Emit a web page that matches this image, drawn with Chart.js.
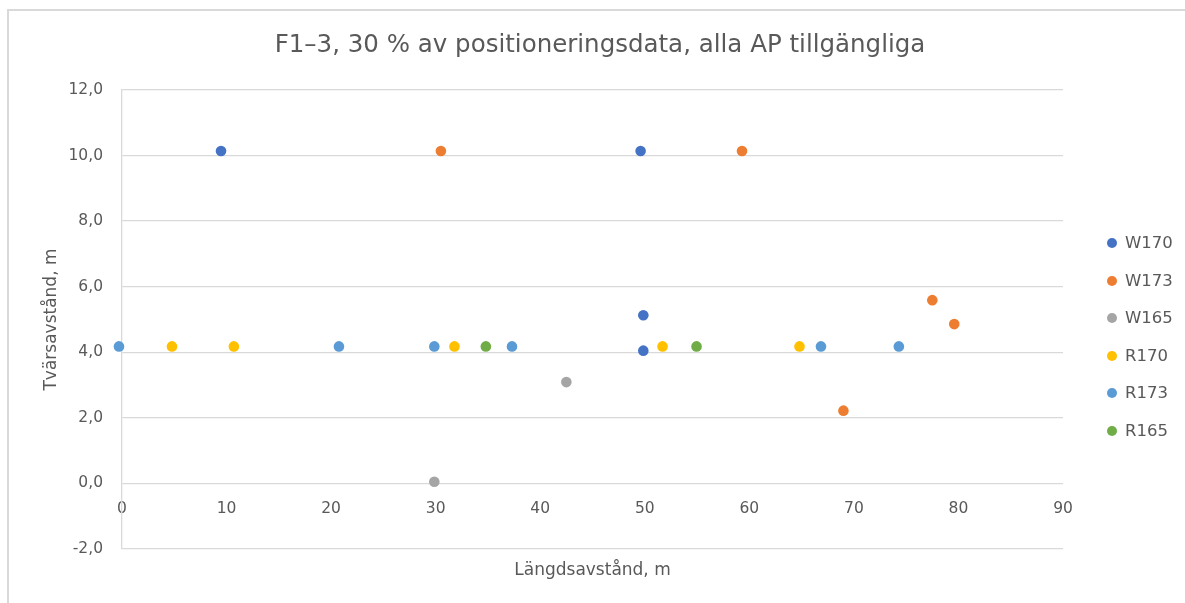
<!DOCTYPE html>
<html>
<head>
<meta charset="utf-8">
<script src="https://cdn.jsdelivr.net/npm/chart.js@4.4.1/dist/chart.umd.min.js"></script>
<style>
  html, body { margin: 0; padding: 0; background: #fff; overflow: hidden; }
  #wrap { position: relative; width: 1185px; height: 603px; overflow: hidden; }
  #frame { position: absolute; left: 7px; top: 9px; width: 1178px; height: 594px;
           border-left: 2px solid #d9d9d9; border-top: 2px solid #d9d9d9; box-sizing: border-box; }
  canvas { position: absolute; left: 0; top: 0; }
  #legend { position: absolute; left: 0; top: 0; font-family: "DejaVu Sans", sans-serif; color: #595959; }
  .li { position: absolute; display: flex; align-items: center; height: 20px; font-size: 16.5px; line-height: 20px; white-space: nowrap; }
  .dot { width: 10px; height: 10px; border-radius: 50%; margin-right: 8px; }
</style>
</head>
<body>
<div id="wrap">
  <div id="frame"></div>
  <canvas id="c" width="1185" height="603"></canvas>
  <div id="legend"></div>
</div>
<script>
// ---- data ----
const seriesNames = ["W170", "W173", "W165", "R170", "R173", "R165"];
const w170X = [9.47, 49.6, 49.86, 49.86];
const w170Y = [10.14, 10.14, 5.13, 4.05];
const w173X = [30.5, 59.3, 77.5, 79.6, 69.0];
const w173Y = [10.14, 10.14, 5.59, 4.86, 2.22];
const w165X = [29.87, 42.5];
const w165Y = [0.05, 3.09];
const r170X = [4.78, 10.7, 31.8, 51.7, 64.8];
const r170Y = [4.18, 4.18, 4.18, 4.18, 4.18];
const r173X = [-0.29, 20.75, 29.87, 37.3, 66.85, 74.3];
const r173Y = [4.18, 4.18, 4.18, 4.18, 4.18, 4.18];
const r165X = [34.8, 54.95];
const r165Y = [4.18, 4.18];
const xTicks = [0, 10, 20, 30, 40, 50, 60, 70, 80, 90];
const yTicks = [-2, 0, 2, 4, 6, 8, 10, 12];
const titleText = "F1\u20133, 30 % av positioneringsdata, alla AP tillgängliga";
const xTitle = "Längdsavstånd, m";
const yTitle = "Tvärsavstånd, m";
// ---------------------------------------

const colors = ["#4472C4", "#ED7D31", "#A5A5A5", "#FFC000", "#5B9BD5", "#70AD47"];
const xs = [w170X, w173X, w165X, r170X, r173X, r165X];
const ys = [w170Y, w173Y, w165Y, r170Y, r173Y, r165Y];
const FONT = "'DejaVu Sans', sans-serif";
const TXT = "#595959";
const GRID = "#d9d9d9";

const datasets = seriesNames.map((name, s) => ({
  label: name,
  data: xs[s].map((x, i) => ({ x: x, y: ys[s][i] })),
  backgroundColor: colors[s],
  borderColor: colors[s],
  pointRadius: 5.3,
  pointHoverRadius: 5.3,
  borderWidth: 0,
  clip: false,
  order: seriesNames.length - s
}));

Chart.defaults.font.family = FONT;
Chart.defaults.color = TXT;

const chart = new Chart(document.getElementById('c'), {
  type: 'scatter',
  data: { datasets: datasets },
  options: {
    responsive: false,
    animation: false,
    devicePixelRatio: 1,
    layout: { padding: { left: 15, right: 0, top: 0, bottom: 0 } },
    plugins: {
      legend: { display: false },
      tooltip: { enabled: false },
      title: {
        display: true,
        text: titleText,
        color: TXT,
        font: { family: FONT, size: 24.5, weight: 'normal' },
        padding: { top: 31, bottom: 29.6 }
      }
    },
    scales: {
      x: {
        type: 'linear',
        position: 'bottom',
        min: 0, max: 90,
        grid: { display: false, drawTicks: false },
        border: { display: false },
        ticks: { display: false },
        title: { display: true, text: xTitle, color: TXT, font: { family: FONT, size: 17 }, padding: { top: 0, bottom: 21.8 } },
        afterFit: (s) => { s.height = 54; }
      },
      x2: {
        type: 'linear',
        position: { y: 0 },
        min: 0, max: 90,
        afterBuildTicks: (s) => { s.ticks = xTicks.map(v => ({ value: v })); },
        ticks: { color: TXT, font: { family: FONT, size: 15.5 }, padding: 16.4, maxRotation: 0, autoSkip: false },
        grid: { display: false, drawTicks: false },
        border: { display: false },
        afterFit: (s) => { s.height = 0; }
      },
      y: {
        type: 'linear',
        position: 'left',
        min: -2, max: 12,
        afterBuildTicks: (s) => { s.ticks = yTicks.map(v => ({ value: v })); },
        ticks: {
          color: TXT, font: { family: FONT, size: 15.5 }, padding: 19,
          callback: (v) => Number(v).toFixed(1).replace('.', ',')
        },
        grid: { color: GRID, lineWidth: 1.3, drawTicks: false },
        border: { display: true, color: GRID, width: 1.3 },
        title: { display: true, text: yTitle, color: TXT, font: { family: FONT, size: 17 }, padding: { top: 26.8, bottom: 0 } },
        afterFit: (s) => { s.width = 107; }
      },
      ySpace: {
        type: 'linear',
        position: 'right',
        min: -2, max: 12,
        grid: { display: false, drawTicks: false },
        border: { display: false },
        ticks: { display: false },
        afterFit: (s) => { s.width = 122; }
      }
    }
  }
});

// legend built from the chart's datasets
const leg = document.getElementById('legend');
chart.data.datasets.forEach((ds, i) => {
  const item = document.createElement('div');
  item.className = 'li';
  item.style.left = '1107px';
  item.style.top = (243.3 + i * 37.5 - 10) + 'px';
  const dot = document.createElement('span');
  dot.className = 'dot';
  dot.style.background = ds.backgroundColor;
  const t = document.createElement('span');
  t.textContent = ds.label;
  item.appendChild(dot);
  item.appendChild(t);
  leg.appendChild(item);
});
</script>
</body>
</html>
